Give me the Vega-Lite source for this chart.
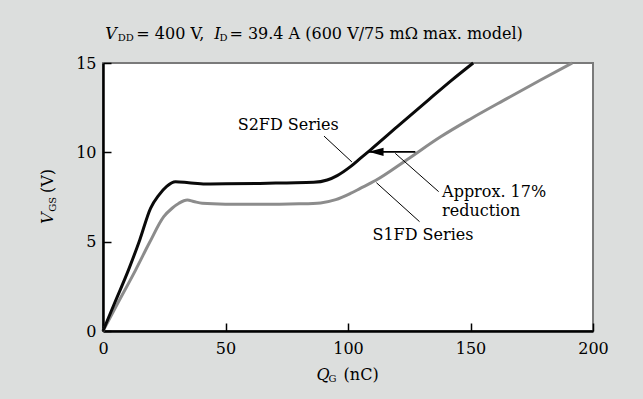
{
  "$schema": "https://vega.github.io/schema/vega-lite/v6.json",
  "width": 490,
  "height": 268,
  "autosize": {"type": "none"},
  "padding": {"left": 103, "top": 63, "right": 50, "bottom": 68},
  "background": "#dcdedd",
  "config": {
    "view": {"fill": "white", "stroke": "#7a7a7a", "strokeWidth": 2},
    "font": "DejaVu Serif",
    "text": {"font": "DejaVu Serif", "fontSize": 16, "color": "black"}
  },
  "datasets": {
    "curves": [
      {"series": "S2FD", "q": 0, "v": 0},
      {"series": "S2FD", "q": 5, "v": 1.65},
      {"series": "S2FD", "q": 10.5, "v": 3.45},
      {"series": "S2FD", "q": 15, "v": 5.1},
      {"series": "S2FD", "q": 19.4, "v": 6.87},
      {"series": "S2FD", "q": 22.8, "v": 7.61},
      {"series": "S2FD", "q": 26, "v": 8.1},
      {"series": "S2FD", "q": 29.6, "v": 8.36},
      {"series": "S2FD", "q": 35, "v": 8.3},
      {"series": "S2FD", "q": 41.8, "v": 8.23},
      {"series": "S2FD", "q": 50, "v": 8.24},
      {"series": "S2FD", "q": 64, "v": 8.26},
      {"series": "S2FD", "q": 75, "v": 8.29},
      {"series": "S2FD", "q": 86, "v": 8.32},
      {"series": "S2FD", "q": 91.5, "v": 8.45},
      {"series": "S2FD", "q": 95.6, "v": 8.7},
      {"series": "S2FD", "q": 101, "v": 9.2},
      {"series": "S2FD", "q": 105, "v": 9.66},
      {"series": "S2FD", "q": 109.2, "v": 10.14},
      {"series": "S2FD", "q": 120, "v": 11.42},
      {"series": "S2FD", "q": 133, "v": 12.95},
      {"series": "S2FD", "q": 142, "v": 14.0},
      {"series": "S2FD", "q": 151.1, "v": 15}
    ],
    "curvesS1": [
      {"series": "S1FD", "q": 0, "v": 0},
      {"series": "S1FD", "q": 6, "v": 1.55},
      {"series": "S1FD", "q": 13.3, "v": 3.41},
      {"series": "S1FD", "q": 19, "v": 4.95},
      {"series": "S1FD", "q": 24.8, "v": 6.4},
      {"series": "S1FD", "q": 28.2, "v": 6.87},
      {"series": "S1FD", "q": 31, "v": 7.15},
      {"series": "S1FD", "q": 34.4, "v": 7.33},
      {"series": "S1FD", "q": 37, "v": 7.25},
      {"series": "S1FD", "q": 40.5, "v": 7.15},
      {"series": "S1FD", "q": 50, "v": 7.1},
      {"series": "S1FD", "q": 64, "v": 7.09},
      {"series": "S1FD", "q": 80, "v": 7.12},
      {"series": "S1FD", "q": 88.8, "v": 7.17},
      {"series": "S1FD", "q": 95, "v": 7.35},
      {"series": "S1FD", "q": 101, "v": 7.7},
      {"series": "S1FD", "q": 105, "v": 7.98},
      {"series": "S1FD", "q": 111.2, "v": 8.42},
      {"series": "S1FD", "q": 124.2, "v": 9.6},
      {"series": "S1FD", "q": 137.8, "v": 10.87},
      {"series": "S1FD", "q": 150, "v": 11.87},
      {"series": "S1FD", "q": 165, "v": 13.02},
      {"series": "S1FD", "q": 178.6, "v": 14.05},
      {"series": "S1FD", "q": 191.5, "v": 15}
    ],
    "leaders": [
      {"q": 90.2, "v": 10.91, "q2": 101.6, "v2": 9.46},
      {"q": 119.3, "v": 9.94, "q2": 137, "v2": 7.8},
      {"q": 111.6, "v": 8.3, "q2": 129.2, "v2": 6.12}
    ],
    "arrow": [{"q": 108.4, "v": 10.03, "q2": 127.5}],
    "labelsCenter": [
      {"t": "S2FD Series", "q": 75.6, "v": 11.53},
      {"t": "S1FD Series", "q": 130.6, "v": 5.37}
    ],
    "labelsLeft": [
      {"t": "Approx. 17%", "q": 138.4, "v": 7.8},
      {"t": "reduction", "q": 138.4, "v": 6.73}
    ],
    "textRegular": [
      {"t": "= 400 V,", "q": 13.6, "v": 16.34},
      {"t": "= 39.4 A (600 V/75 mΩ max. model)", "q": 51.6, "v": 16.34},
      {"t": "(nC)", "q": 98.2, "v": -2.74}
    ],
    "textItalic": [
      {"t": "V", "q": 0.94, "v": 16.34},
      {"t": "I", "q": 45.4, "v": 16.34},
      {"t": "Q", "q": 87.1, "v": -2.74}
    ],
    "textSub": [
      {"t": "DD", "q": 6.0, "v": 16.23},
      {"t": "D", "q": 47.5, "v": 16.23},
      {"t": "G", "q": 92, "v": -2.85}
    ],
    "yItalic": [{"t": "V", "q": -20.3, "v": 5.99}],
    "ySub": [{"t": "GS", "q": -19.3, "v": 6.67}],
    "yRegular": [{"t": "(V)", "q": -20.3, "v": 7.72}]
  },
  "encoding": {
    "x": {
      "field": "q", "type": "quantitative",
      "scale": {"domain": [0, 200], "nice": false},
      "axis": {
        "values": [0, 50, 100, 150, 200], "title": null, "grid": false,
        "tickSize": -8, "tickColor": "black", "tickWidth": 1.5,
        "domainColor": "black", "domainWidth": 2.5,
        "labelFont": "DejaVu Serif", "labelFontSize": 16, "labelColor": "black",
        "labelPadding": 17, "labelFlush": false
      }
    },
    "y": {
      "field": "v", "type": "quantitative",
      "scale": {"domain": [0, 15], "nice": false},
      "axis": {
        "values": [0, 5, 10, 15], "title": null, "grid": false,
        "tickSize": -8, "tickColor": "black", "tickWidth": 1.5,
        "domainColor": "black", "domainWidth": 2.5,
        "labelFont": "DejaVu Serif", "labelFontSize": 16, "labelColor": "black",
        "labelPadding": 15, "labelFlush": false
      }
    }
  },
  "layer": [
    {
      "mark": {"type": "rule", "color": "#333333", "strokeWidth": 1.5},
      "encoding": {"y": {"datum": 15}, "x": null}
    },
    {
      "data": {"name": "curvesS1"},
      "mark": {"type": "line", "strokeWidth": 3, "interpolate": "monotone", "color": "#8c8c8c"}
    },
    {
      "data": {"name": "curves"},
      "mark": {"type": "line", "strokeWidth": 3, "interpolate": "monotone", "color": "#0a0a0a"}
    },
    {
      "data": {"name": "leaders"},
      "mark": {"type": "rule", "color": "black", "strokeWidth": 1},
      "encoding": {"x2": {"field": "q2"}, "y2": {"field": "v2"}}
    },
    {
      "data": {"name": "arrow"},
      "mark": {"type": "rule", "color": "black", "strokeWidth": 1.8},
      "encoding": {"x2": {"field": "q2"}}
    },
    {
      "data": {"name": "arrow"},
      "mark": {"type": "point", "shape": "M 0 0 L 2 -0.55 L 2 0.55 Z", "size": 225, "filled": true, "color": "black", "opacity": 1, "strokeWidth": 0}
    },
    {
      "data": {"name": "labelsCenter"},
      "mark": {"type": "text", "align": "center", "baseline": "middle"},
      "encoding": {"text": {"field": "t"}}
    },
    {
      "data": {"name": "labelsLeft"},
      "mark": {"type": "text", "align": "left", "baseline": "middle"},
      "encoding": {"text": {"field": "t"}}
    },
    {
      "data": {"name": "textRegular"},
      "mark": {"type": "text", "align": "left", "baseline": "alphabetic"},
      "encoding": {"text": {"field": "t"}}
    },
    {
      "data": {"name": "textItalic"},
      "mark": {"type": "text", "align": "left", "baseline": "alphabetic", "fontStyle": "italic"},
      "encoding": {"text": {"field": "t"}}
    },
    {
      "data": {"name": "textSub"},
      "mark": {"type": "text", "align": "left", "baseline": "alphabetic", "fontSize": 10},
      "encoding": {"text": {"field": "t"}}
    },
    {
      "data": {"name": "yItalic"},
      "mark": {"type": "text", "align": "left", "baseline": "alphabetic", "fontStyle": "italic", "angle": 270},
      "encoding": {"text": {"field": "t"}}
    },
    {
      "data": {"name": "ySub"},
      "mark": {"type": "text", "align": "left", "baseline": "alphabetic", "fontSize": 10, "angle": 270},
      "encoding": {"text": {"field": "t"}}
    },
    {
      "data": {"name": "yRegular"},
      "mark": {"type": "text", "align": "left", "baseline": "alphabetic", "angle": 270},
      "encoding": {"text": {"field": "t"}}
    }
  ]
}
